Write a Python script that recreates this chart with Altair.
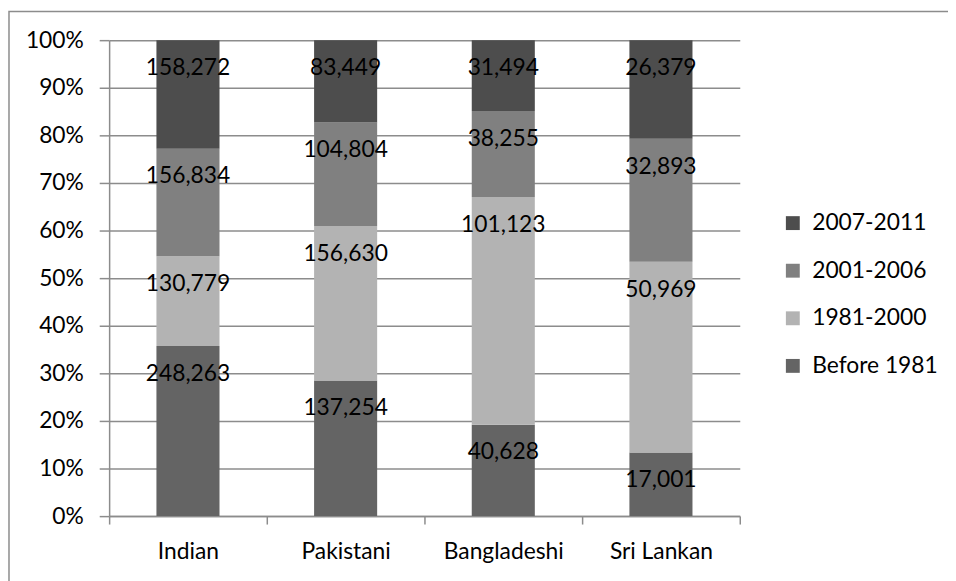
import altair as alt
import pandas as pd

categories = ["Indian", "Pakistani", "Bangladeshi", "Sri Lankan"]
periods = ["Before 1981", "1981-2000", "2001-2006", "2007-2011"]
before_1981 = [248263, 137254, 40628, 17001]
y1981_2000 = [130779, 156630, 101123, 50969]
y2001_2006 = [156834, 104804, 38255, 32893]
y2007_2011 = [158272, 83449, 31494, 26379]
colors = {"2007-2011": "#4d4d4d", "2001-2006": "#808080", "1981-2000": "#b3b3b3", "Before 1981": "#646464"}

series = [before_1981, y1981_2000, y2001_2006, y2007_2011]
rows = []
for si, (p, vals) in enumerate(zip(periods, series)):
    for c, v in zip(categories, vals):
        rows.append({"cat": c, "period": p, "idx": si, "value": v})
df = pd.DataFrame(rows)

FONT = "Lato"
FS = 23
W, H = 636, 480
legend_order = ["2007-2011", "2001-2006", "1981-2000", "Before 1981"]

base = alt.Chart(df).transform_stack(
    stack="value", as_=["y0", "y1"], groupby=["cat"],
    sort=[alt.SortField("idx", order="ascending")], offset="normalize"
)

xenc = alt.X("cat:N", sort=categories, title=None,
             scale=alt.Scale(paddingInner=0, paddingOuter=0),
             axis=alt.Axis(tickBand="extent", labelAngle=0, labelFontSize=FS, labelFont=FONT,
                           labelColor="#000000", tickSize=8, tickColor="#8c8c8c", tickWidth=1.5,
                           domainColor="#8c8c8c", domainWidth=1.5, labelPadding=17, grid=False))

bars = base.mark_bar(width=alt.RelativeBandSize(0.4)).encode(
    x=xenc,
    y=alt.Y("y0:Q", scale=alt.Scale(domain=[0, 1], nice=False), title=None,
            axis=alt.Axis(format="%", values=[i / 10 for i in range(11)], labelFontSize=FS,
                          labelFont=FONT, labelColor="#000000", tickSize=10, tickColor="#8c8c8c",
                          tickWidth=1.5, domainColor="#8c8c8c", domainWidth=1.5, gridColor="#8c8c8c",
                          gridWidth=1.5, labelPadding=16)),
    y2="y1:Q",
    color=alt.Color("period:N", scale=alt.Scale(domain=legend_order,
                                                range=[colors[p] for p in legend_order]),
                    legend=alt.Legend(title=None, orient="none", legendX=678, legendY=173,
                                      symbolType="square", symbolSize=196, symbolStrokeWidth=0,
                                      labelFontSize=FS, labelFont=FONT, labelColor="#000000",
                                      labelOffset=8, rowPadding=24)),
)

labels = base.transform_calculate(label="format(datum.value, ',')").mark_text(
    font=FONT, fontSize=FS, color="#000000", baseline="middle", dy=28
).encode(
    x=alt.X("cat:N", sort=categories),
    y=alt.Y("y1:Q"),
    text="label:N",
)

border = alt.Chart(pd.DataFrame({"a": [0]})).mark_rect(
    fill=None, stroke="#8c8c8c", strokeWidth=1.5
).encode(x=alt.value(-101), x2=alt.value(W + 400), y=alt.value(-29), y2=alt.value(H + 300))

chart = alt.layer(bars, labels, border).properties(
    width=W, height=H,
    autosize=alt.AutoSizeParams(type="none"),
    padding={"left": 102, "top": 30, "right": 210, "bottom": 63},
).configure_view(stroke=None).configure_axis(labelFont=FONT)

chart.save("out.html", embed_options={"renderer": "svg", "actions": False})
